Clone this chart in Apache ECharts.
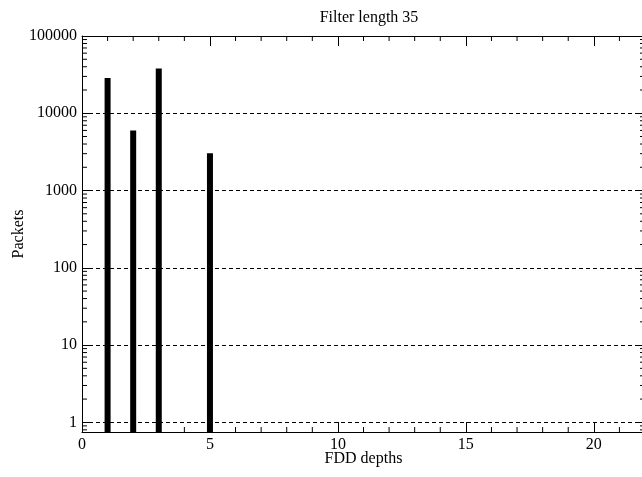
<!DOCTYPE html>
<html>
<head>
<meta charset="utf-8">
<script src="https://cdn.jsdelivr.net/npm/echarts@6/dist/echarts.min.js"></script>
<style>html,body{margin:0;padding:0;background:#fff}#c{width:642px;height:477px}</style>
</head>
<body>
<div id="c"></div>
<script>
// Data
var depths = [1, 2, 3, 5];
var packets = [28600, 6000, 38000, 3030];
var xMinorTicks = [1,2,3,4,6,7,8,9,11,12,13,14,16,17,18,19,21];
var yMinorTicks = [0.8,0.9,2,3,4,5,6,7,8,9,20,30,40,50,60,70,80,90,200,300,400,500,600,700,800,900,2000,3000,4000,5000,6000,7000,8000,9000,20000,30000,40000,50000,60000,70000,80000,90000];
var titleText = 'Filter length 35';
var xName = 'FDD depths';
var yName = 'Packets';

var FONT = 'Liberation Serif';
var FS = 16;
var chart = echarts.init(document.getElementById('c'));
var barData = depths.map(function (d, i) { return [d, packets[i]]; });

function axisBase(pos, showLabel) {
  return {
    type: 'value', position: pos, min: 0, max: 22, interval: 5,
    axisLine: { show: true, onZero: false, lineStyle: { color: '#000', width: 1 } },
    axisTick: { show: true, inside: true, length: 10, lineStyle: { color: '#000' } },
    axisLabel: { show: showLabel, color: '#000', fontFamily: FONT, fontSize: FS, margin: 5, showMaxLabel: false },
    splitLine: { show: false }
  };
}
var xb = axisBase('bottom', true);
xb.name = xName; xb.nameLocation = 'middle'; xb.nameGap = 19; xb.nameMoveOverlap = false;
xb.nameTextStyle = { color: '#000', fontFamily: FONT, fontSize: FS };
var xt = axisBase('top', false);

function yAxisBase(pos, showLabel) {
  return {
    type: 'log', logBase: 10, position: pos, min: 0.75, max: 100000, startValue: 0.75,
    axisLine: { show: true, onZero: false, lineStyle: { color: '#000', width: 1 } },
    axisTick: { show: true, inside: true, length: 8, lineStyle: { color: '#000' } },
    axisLabel: { show: showLabel, color: '#000', fontFamily: FONT, fontSize: FS, margin: 5, showMinLabel: false,
      formatter: function (v) { return String(Math.round(v)); } },
    splitLine: { show: showLabel, lineStyle: { color: '#000', type: [4, 3], width: 1 } }
  };
}
var yl = yAxisBase('left', true);
yl.name = yName; yl.nameLocation = 'middle'; yl.nameGap = 55; yl.nameMoveOverlap = false;
yl.nameTextStyle = { color: '#000', fontFamily: FONT, fontSize: FS };
var yr = yAxisBase('right', false);

chart.setOption({
  animation: false,
  backgroundColor: '#fff',
  title: { text: titleText, left: 364, textAlign: 'center', top: 5,
    textStyle: { color: '#000', fontFamily: FONT, fontSize: FS, fontWeight: 'normal' } },
  grid: { left: 82, right: -3, top: 36, bottom: 45, containLabel: false, outerBoundsMode: 'none' },
  xAxis: [xb, xt],
  yAxis: [yl, yr],
  series: [
    { type: 'bar', xAxisIndex: 0, yAxisIndex: 0, data: barData, barWidth: 6,
      itemStyle: { color: '#000' }, silent: true },
    { type: 'custom', xAxisIndex: 0, yAxisIndex: 0, silent: true,
      data: yMinorTicks.map(function (v) { return [0, v]; }),
      renderItem: function (params, api) {
        var cs = params.coordSys;
        var y = api.coord([0, api.value(1)])[1];
        return { type: 'group', children: [
          { type: 'line', shape: { x1: cs.x, y1: y, x2: cs.x + 5, y2: y }, style: { stroke: '#000', lineWidth: 1 } },
          { type: 'line', shape: { x1: cs.x + cs.width - 5, y1: y, x2: cs.x + cs.width, y2: y }, style: { stroke: '#000', lineWidth: 1 } }
        ]};
      }
    },
    { type: 'custom', xAxisIndex: 0, yAxisIndex: 0, silent: true,
      data: xMinorTicks.map(function (v) { return [v, 1]; }),
      renderItem: function (params, api) {
        var cs = params.coordSys;
        var x = api.coord([api.value(0), 1])[0];
        return { type: 'group', children: [
          { type: 'line', shape: { x1: x, y1: cs.y, x2: x, y2: cs.y + 5 }, style: { stroke: '#000', lineWidth: 1 } },
          { type: 'line', shape: { x1: x, y1: cs.y + cs.height - 5, x2: x, y2: cs.y + cs.height }, style: { stroke: '#000', lineWidth: 1 } }
        ]};
      }
    }
  ]
});
</script>
</body>
</html>
